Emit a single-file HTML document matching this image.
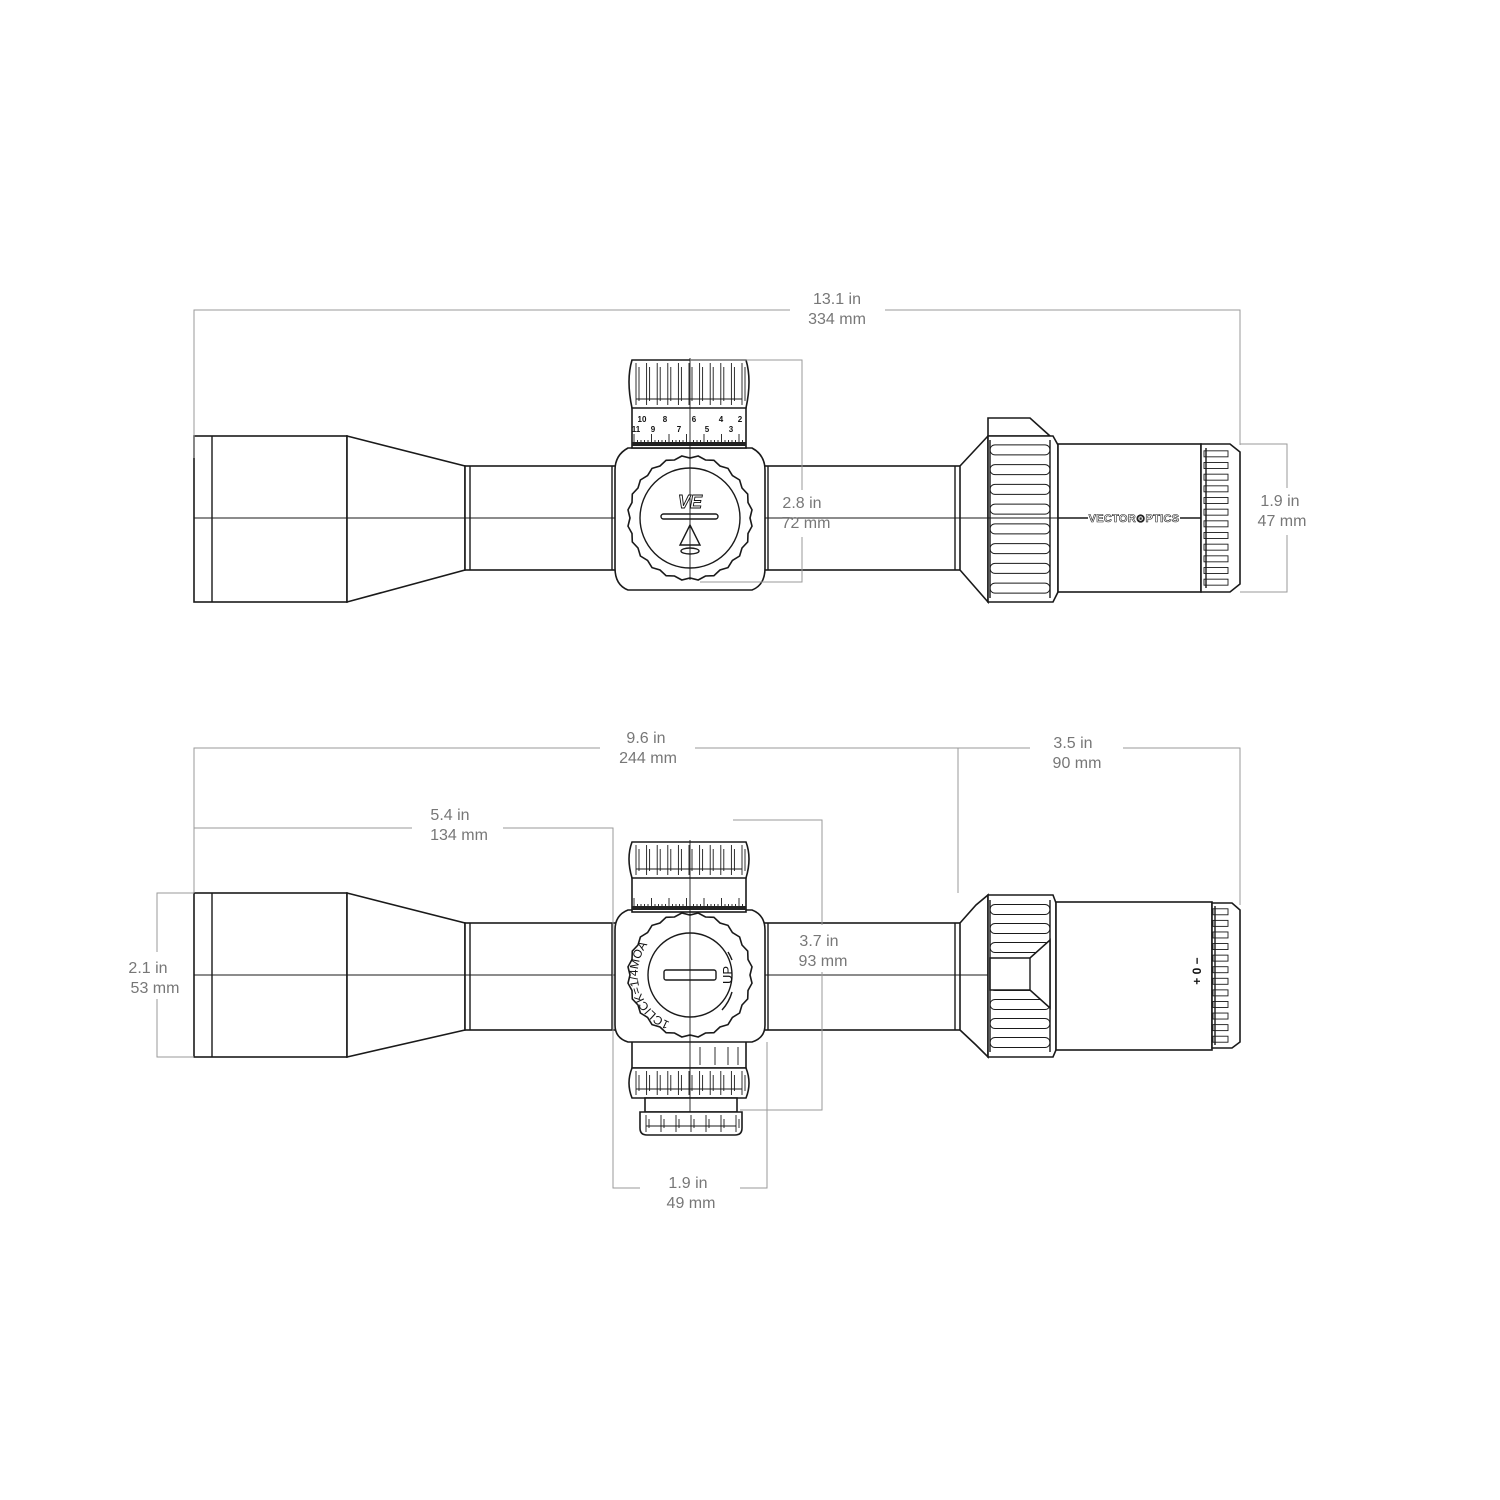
<!DOCTYPE html>
<html><head><meta charset="utf-8"><style>
html,body{margin:0;padding:0;background:#fff}
svg{display:block}
.s{fill:#fff;stroke:#1a1a1a;stroke-width:1.6}
.n{fill:none;stroke:#1a1a1a;stroke-width:1.4}
.t{fill:none;stroke:#1a1a1a;stroke-width:0.9}
.d{fill:none;stroke:#9a9a9a;stroke-width:1}
.lb{font-family:"Liberation Sans",sans-serif;font-size:16px;fill:#777;text-anchor:middle}
.sm{font-family:"Liberation Sans",sans-serif;font-size:8px;fill:#111;text-anchor:middle;font-weight:bold}
</style></head><body>
<svg id="sv" width="1500" height="1500" viewBox="0 0 1500 1500" xmlns="http://www.w3.org/2000/svg">
<g id="top">
<rect class="s" x="194" y="436" width="153" height="166"/>
<line class="n" x1="212" y1="436" x2="212" y2="602"/>
<path class="s" d="M347 436 L465 466 L465 570 L347 602 Z"/>
<rect class="s" x="465" y="466" width="160" height="104"/>
<rect class="s" x="755" y="466" width="210" height="104"/>
<line class="n" x1="470" y1="466" x2="470" y2="570"/>
<line class="n" x1="612" y1="466" x2="612" y2="570"/>
<line class="n" x1="768" y1="466" x2="768" y2="570"/>
<line class="n" x1="955" y1="466" x2="955" y2="570"/>
<path class="s" d="M960 466 L988 436 L988 602 L960 570 Z"/>
<path class="s" d="M988 418 L1030 418 L1050 436 L988 436 Z"/>
<path class="s" d="M988 436 L1053 436 L1058 445 L1058 592 L1053 602 L988 602 Z"/>
<g id="pr1"></g>
<rect class="s" x="1058" y="444" width="143" height="148"/>
<path class="s" d="M1201 444 L1230 444 L1240 452 L1240 584 L1230 592 L1201 592 Z"/>
<g id="er1"></g>
<line class="n" x1="1058" y1="518" x2="1201" y2="518"/>
<rect x="1088" y="512" width="92" height="12" fill="#fff"/>
<text x="1134" y="522" font-family="Liberation Sans,sans-serif" font-size="11" font-weight="bold" fill="none" stroke="#222" stroke-width="0.6" text-anchor="middle" letter-spacing="0.3">VECTOR⊙PTICS</text>
<line class="t" x1="194" y1="518" x2="615" y2="518"/>
<line class="t" x1="765" y1="518" x2="988" y2="518"/>
<line class="t" x1="988" y1="518" x2="1058" y2="518"/>
<path class="s" d="M628 448 L752 448 Q765 455 765 470 L765 568 Q765 585 752 590 L628 590 Q615 585 615 568 L615 470 Q615 455 628 448 Z"/>
<rect class="s" x="632" y="405" width="114" height="43"/>
<path class="s" d="M632 360 L746 360 Q752 380 746 408 L632 408 Q626 380 632 360 Z"/>
<g id="kn1"></g>
<g id="sc1"></g>
<text class="sm" x="642" y="422">10</text><text class="sm" x="665" y="422">8</text><text class="sm" x="694" y="422">6</text><text class="sm" x="721" y="422">4</text><text class="sm" x="740" y="422">2</text>
<text class="sm" x="636" y="432">11</text><text class="sm" x="653" y="432">9</text><text class="sm" x="679" y="432">7</text><text class="sm" x="707" y="432">5</text><text class="sm" x="731" y="432">3</text>
<line class="t" x1="690" y1="358" x2="690" y2="468"/>
<circle id="dk1" class="s" cx="690" cy="518" r="62" style="fill:none"/>
<circle class="n" cx="690" cy="518" r="50"/>
<line class="t" x1="690" y1="456" x2="690" y2="580"/>
<rect class="n" x="661" y="514" width="57" height="5" rx="2.5"/>
<text x="690" y="508" font-family="Liberation Sans,sans-serif" font-size="18" font-style="italic" font-weight="bold" fill="#fff" stroke="#111" stroke-width="0.9" text-anchor="middle">VE</text>
<path class="n" d="M690 525 L700 545 L680 545 Z"/>
<ellipse class="n" cx="690" cy="551" rx="9" ry="3"/>
</g>
<path class="d" d="M194 458 V310 H790 M885 310 H1240 V445"/>
<text class="lb" x="837" y="304">13.1 in</text><text class="lb" x="837" y="324">334 mm</text>
<path class="d" d="M690 360 H802 V490 M802 537 V582 H700"/>
<text class="lb" x="802" y="508">2.8 in</text><text class="lb" x="806" y="528">72 mm</text>
<path class="d" d="M1240 444 H1287 V488 M1287 535 V592 H1240"/>
<text class="lb" x="1280" y="506">1.9 in</text><text class="lb" x="1282" y="526">47 mm</text>

<rect class="s" x="194" y="893" width="153" height="164"/>
<line class="n" x1="212" y1="893" x2="212" y2="1057"/>
<path class="s" d="M347 893 L465 923 L465 1030 L347 1057 Z"/>
<rect class="s" x="465" y="923" width="160" height="107"/>
<rect class="s" x="755" y="923" width="210" height="107"/>
<line class="n" x1="470" y1="923" x2="470" y2="1030"/>
<line class="n" x1="612" y1="923" x2="612" y2="1030"/>
<line class="n" x1="768" y1="923" x2="768" y2="1030"/>
<line class="n" x1="955" y1="923" x2="955" y2="1030"/>
<path class="s" d="M960 923 L976 905 L988 895 L988 1057 L976 1045 L960 1030 Z"/>
<path class="s" d="M988 895 L1053 895 L1056 903 L1056 1050 L1053 1057 L988 1057 Z"/>
<g id="pr2"></g>
<path class="s" d="M990 958 L1030 958 L1050 940 L1050 1008 L1030 990 L990 990 Z"/>
<line class="n" x1="1030" y1="958" x2="1030" y2="990"/>
<rect class="s" x="1056" y="902" width="156" height="148"/>
<path class="s" d="M1212 903 L1232 903 L1240 910 L1240 1042 L1232 1048 L1212 1048 Z"/>
<g id="er2"></g>
<text x="1201" y="971" font-family="Liberation Sans,sans-serif" font-size="12" font-weight="bold" fill="#111" text-anchor="middle" transform="rotate(-90 1201 971)">+  0  −</text>
<line class="t" x1="194" y1="975" x2="615" y2="975"/>
<line class="t" x1="765" y1="975" x2="988" y2="975"/>
<rect class="s" x="632" y="1040" width="114" height="28"/>
<line class="t" x1="700" y1="1047" x2="700" y2="1065"/><line class="t" x1="715" y1="1047" x2="715" y2="1065"/><line class="t" x1="728" y1="1047" x2="728" y2="1065"/><line class="t" x1="738" y1="1047" x2="738" y2="1065"/>
<path class="s" d="M628 910 L752 910 Q765 915 765 930 L765 1025 Q765 1038 752 1042 L628 1042 Q615 1038 615 1025 L615 930 Q615 915 628 910 Z"/>
<rect class="s" x="632" y="875" width="114" height="37"/>
<path class="s" d="M632 842 L746 842 Q752 858 746 878 L632 878 Q626 858 632 842 Z"/>
<g id="kn2"></g>
<g id="sc2"></g>
<path class="s" d="M632 1068 L746 1068 Q752 1083 746 1098 L632 1098 Q626 1083 632 1068 Z"/>
<g id="kn3"></g>
<rect class="s" x="645" y="1098" width="92" height="14"/>
<path class="s" d="M640 1112 L742 1112 L742 1128 Q742 1135 735 1135 L647 1135 Q640 1135 640 1128 Z"/>
<g id="kn4"></g>
<line class="t" x1="690" y1="840" x2="690" y2="1112"/>
<circle id="dk2" class="s" cx="690" cy="975" r="62" style="fill:none"/>
<circle class="n" cx="690" cy="975" r="42"/>
<rect class="n" x="664" y="970" width="52" height="10" rx="2"/>
<path id="arcp" d="M670 1022 A51 51 0 0 1 682 924" fill="none"/>
<text font-family="Liberation Sans,sans-serif" font-size="12" fill="#111"><textPath href="#arcp">1CLICK=1/4MOA</textPath></text>
<text x="732" y="984" font-family="Liberation Sans,sans-serif" font-size="13" fill="#111" transform="rotate(-90 732 984)">UP</text>
<path class="n" d="M728 952 A45 45 0 0 1 732 960 M732 992 A45 45 0 0 1 722 1010"/>
<line class="t" x1="690" y1="913" x2="690" y2="1037"/>

<path class="d" d="M194 893 V748 H600 M695 748 H958 V893"/>
<text class="lb" x="646" y="743">9.6 in</text><text class="lb" x="648" y="763">244 mm</text>
<path class="d" d="M958 748 H1030 M1123 748 H1240 V905"/>
<text class="lb" x="1073" y="748">3.5 in</text><text class="lb" x="1077" y="768">90 mm</text>
<path class="d" d="M194 893 V828 H412 M503 828 H613 V1188 H640 M740 1188 H767 V1042"/>
<text class="lb" x="450" y="820">5.4 in</text><text class="lb" x="459" y="840">134 mm</text>
<text class="lb" x="688" y="1188">1.9 in</text><text class="lb" x="691" y="1208">49 mm</text>
<path class="d" d="M733 820 H822 V925 M822 972 V1110 H740"/>
<text class="lb" x="819" y="946">3.7 in</text><text class="lb" x="823" y="966">93 mm</text>
<path class="d" d="M194 893 H157 V952 M157 999 V1057 H194"/>
<text class="lb" x="148" y="973">2.1 in</text><text class="lb" x="155" y="993">53 mm</text>
</svg>
<script>
var NS="http://www.w3.org/2000/svg";
function el(g,t,a){var e=document.createElementNS(NS,t);for(var k in a)e.setAttribute(k,a[k]);document.getElementById(g).appendChild(e);}
function knurl(g,x1,x2,y1,y2,n){for(var i=0;i<=n;i++){var x=x1+(x2-x1)*i/n;el(g,"line",{x1:x,y1:y1,x2:x,y2:y2,"class":"t"});el(g,"line",{x1:x+3,y1:y1+4,x2:x+3,y2:y2-4,"class":"t"});}el(g,"line",{x1:x1,y1:y2-6,x2:x2,y2:y2-6,"class":"t"});}
knurl("kn1",636,742,363,405,10);knurl("kn2",636,742,845,875,10);knurl("kn3",636,742,1071,1095,10);knurl("kn4",646,736,1115,1132,6);
function scale(g,y){for(var x=634;x<=744;x+=3.5){var l=((Math.round((x-634)/3.5))%5==0)?12:6;el(g,"line",{x1:x,y1:y-l,x2:x,y2:y,"class":"t"});}el(g,"rect",{x:632,y:y-4,width:114,height:4,fill:"#222"});}
scale("sc1",446);scale("sc2",910);
function ring(g,x1,x2,y1,y2,n){for(var i=0;i<n;i++){var y=y1+(y2-y1)*(i+0.5)/n;el(g,"rect",{x:x1,y:y-5,width:x2-x1,height:10,rx:5,"class":"t",fill:"#fff"});}el(g,"line",{x1:x1,y1:y1,x2:x1,y2:y2,"class":"n"});el(g,"line",{x1:x2,y1:y1,x2:x2,y2:y2,"class":"n"});}
ring("pr1",990,1050,440,598,8);ring("pr2",990,1050,900,1052,8);
function er(g,x1,x2,y1,y2,n){for(var i=0;i<n;i++){var y=y1+(y2-y1)*(i+0.5)/n;el(g,"rect",{x:x1,y:y-3,width:x2-x1,height:6,"class":"t",fill:"#fff"});}el(g,"line",{x1:x1+2,y1:y1,x2:x1+2,y2:y2,"class":"n"});}
er("er1",1204,1228,448,588,12);er("er2",1213,1228,906,1045,12);
function teeth(cx,cy,r,g){var d="";for(var i=0;i<=48;i++){var a=i/48*Math.PI*2;var rr=r+((i%2)?2.5:0);d+=(i?"L":"M")+(cx+rr*Math.cos(a)).toFixed(1)+" "+(cy+rr*Math.sin(a)).toFixed(1);}var e=document.createElementNS(NS,"path");e.setAttribute("d",d+"Z");e.setAttribute("class","s");var ref=document.getElementById(g);ref.parentNode.insertBefore(e,ref);ref.style.display="none";}
teeth(690,518,60,"dk1");teeth(690,975,60,"dk2");
</script>
</body></html>
